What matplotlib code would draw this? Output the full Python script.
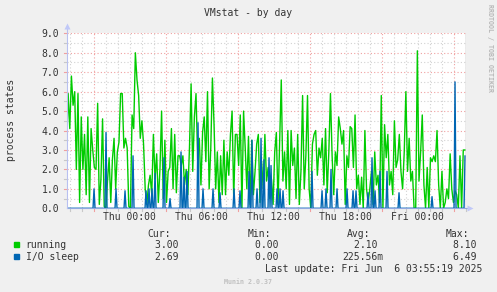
import numpy as np
import matplotlib
matplotlib.use("Agg")
import matplotlib.pyplot as plt
from matplotlib.patches import Rectangle

# ---------------- data ----------------
# "running" samples (process count), read left to right across the day graph
running = [
    3.0, 5.9, 4.1, 6.8, 5.3, 6.0, 2.0, 5.9, 0.3, 4.7, 2.0, 3.8, 0.7, 4.7, 0.3, 4.1, 3.0,
    2.1, 2.0, 5.4, 0.2, 1.5, 4.6, 0.1, 0.0, 1.4, 2.6, 0.3, 2.5, 3.6, 1.0, 2.9, 3.4, 5.9,
    5.9, 3.1, 3.6, 3.1, 0.1, 0.0, 4.8, 4.1, 8.0, 6.6, 5.8, 3.6, 4.5, 3.3, 1.0, 0.2, 1.2,
    1.7, 0.7, 3.8, 1.5, 2.8, 0.3, 2.0, 5.0, 0.5, 3.5, 0.3, 1.9, 2.1, 4.1, 1.0, 3.8, 0.8, 2.7,
    2.7, 2.2, 2.7, 1.2, 2.0, 0.7, 3.1, 6.4, 1.9, 4.7, 5.9, 2.5, 3.6, 1.2, 3.9, 4.7, 2.4,
    6.0, 1.0, 3.1, 6.7, 4.3, 1.0, 2.9, 0.3, 2.7, 0.7, 3.5, 0.7, 2.9, 1.7, 3.8, 5.0, 0.5, 3.8,
    3.8, 2.2, 4.8, 0.0, 5.0, 3.1, 1.0, 3.7, 0.2, 3.5, 0.7, 1.9, 3.3, 3.8, 0.3, 2.4, 1.0,
    3.8, 1.4, 2.1, 0.5, 1.5, 0.2, 2.9, 3.9, 0.2, 3.3, 6.6, 1.4, 2.9, 1.0, 4.0, 0.2, 4.0, 2.2,
    3.1, 0.5, 3.8, 0.2, 1.9, 5.8, 1.0, 2.7, 5.8, 1.0, 0.0, 3.3, 3.8, 4.0, 1.7, 3.1, 2.6,
    3.6, 1.2, 4.1, 0.8, 2.9, 5.9, 2.7, 0.7, 2.9, 2.2, 4.7, 4.1, 3.3, 4.0, 0.2, 2.7, 2.1, 4.2,
    4.1, 2.1, 4.8, 1.0, 1.7, 0.2, 1.6, 0.0, 4.0, 1.0, 0.3, 1.0, 1.9, 0.2, 2.9, 1.2, 1.7,
    0.3, 5.8, 0.0, 4.3, 2.6, 3.8, 1.2, 1.9, 0.7, 4.5, 2.1, 2.5, 3.8, 1.9, 1.0, 2.9, 6.0, 1.9,
    3.6, 1.4, 1.9, 0.0, 0.0, 8.1, 1.4, 2.9, 4.8, 1.2, 0.0, 2.1, 0.0, 2.6, 2.4, 2.7, 2.4,
    4.0, 1.2, 0.0, 1.9, 0.0, 0.3, 1.0, 0.5, 2.8, 1.0, 0.3, 0.9, 0.7, 0.0, 2.7, 0.0, 3.0, 3.0,
]

# "I/O sleep": mostly zero, with spikes (hours relative to Thu 00:00, value)
io_spike_hours = [
    -2.96, -1.96, -1.13, -0.38, 0.29, 1.38, 1.63, 1.88, 2.13, 2.88, 3.38, 4.29, 4.54,
    4.79, 5.71, 6.13, 6.96, 7.54, 8.71, 9.21, 9.96, 10.21, 10.63, 10.96, 11.21, 11.63,
    11.79, 12.29, 12.54, 12.79, 15.21, 16.04, 16.38, 16.79, 17.29, 18.13, 18.63, 18.88,
    19.88, 20.21, 20.46, 20.88, 21.46, 22.46, 25.21, 27.13, 27.96,
]
io_spike_values = [
    1.0, 3.9, 1.0, 0.9, 2.7, 0.9, 1.0, 1.0, 1.8, 2.6, 0.5, 2.9, 1.6,
    1.9, 4.4, 1.0, 1.0, 0.8, 1.0, 0.9, 1.9, 3.5, 1.0, 3.6, 2.5, 2.6,
    2.2, 1.0, 1.0, 0.9, 1.9, 0.9, 1.0, 2.0, 1.0, 1.0, 0.9, 0.9,
    0.8, 2.6, 0.9, 1.9, 1.9, 0.8, 0.6, 6.5, 2.69,
]

x_tick_hours = [0, 6, 12, 18, 24]
x_tick_labels = ["Thu 00:00", "Thu 06:00", "Thu 12:00", "Thu 18:00", "Fri 00:00"]
y_ticks = [0.0, 1.0, 2.0, 3.0, 4.0, 5.0, 6.0, 7.0, 8.0, 9.0]

series_names = ["running", "I/O sleep"]
series_colors = ["#00CC00", "#0066B3"]
cur_vals = ["3.00", "2.69"]
min_vals = ["0.00", "0.00"]
avg_vals = ["2.10", "225.56m"]
max_vals = ["8.10", "6.49"]

title = "VMstat - by day"
ylabel = "process states"
last_update = "Last update: Fri Jun  6 03:55:19 2025"

# ---------------- layout ----------------
W, H = 497, 292
PX_PER_H = 12.0
X0_PIX = 129.5            # pixel of Thu 00:00
AX_L, AX_R, AX_T, AX_B = 66.7, 465.7, 33.3, 208.3
h_left = (AX_L - X0_PIX) / PX_PER_H
h_right = (AX_R - X0_PIX) / PX_PER_H

MONO = "DejaVu Sans Mono"
TXT = "#333333"
FS = 7

fig = plt.figure(figsize=(W / 100, H / 100), dpi=100)
fig.patch.set_facecolor("#F0F0F0")
ax = fig.add_axes([AX_L / W, 1 - AX_B / H, (AX_R - AX_L) / W, (AX_B - AX_T) / H])
ax.set_facecolor("white")
ax.set_xlim(h_left, h_right)
ax.set_ylim(0, 9)
for s in ax.spines.values():
    s.set_visible(False)

# grid
dot = (0, (1, 2))
hh = np.arange(np.ceil(h_left), h_right, 1.0)
for h in hh:
    major = int(round(h + 3)) % 6 == 0
    ax.axvline(h, color="#F0A0A0" if major else "#D2D2D2", lw=0.8, ls=dot, zorder=1)
    ax.plot([h, h], [0, -0.12], color="#F0A0A0" if major else "#C8C8C8", lw=0.8,
            clip_on=False, zorder=1)
for y in np.arange(0.5, 9.01, 0.5):
    major = abs(y - round(y)) < 1e-6
    ax.axhline(y, color="#F0A0A0" if major else "#D2D2D2", lw=0.8, ls=dot, zorder=1)
    ax.plot([h_left - 0.2, h_left], [y, y], color="#F0A0A0" if major else "#C8C8C8",
            lw=0.8, clip_on=False, zorder=1)

# series
t_run = np.linspace(-5.25, 27.95, len(running))
ax.plot(t_run, running, color=series_colors[0], lw=1.0, zorder=3)

step = 5.0 / 60.0
n_io = int(round((27.96 - h_left) / step)) + 1
t_io = np.linspace(27.96 - (n_io - 1) * step, 27.96, n_io)
io = np.zeros(n_io)
for hsp, v in zip(io_spike_hours, io_spike_values):
    io[int(np.argmin(np.abs(t_io - hsp)))] = v
ax.plot(t_io, io, color=series_colors[1], lw=1.0, zorder=4)

# axis lines, arrows and right border
ax.plot([h_left, h_left], [0, 9.3], color="#B8C0F0", lw=0.8, clip_on=False, zorder=5)
ax.plot([h_left, h_right + 0.3], [0, 0], color="#90A8E0", lw=0.8, clip_on=False, zorder=2)
ax.plot([h_left], [9.35], marker="^", ms=4, color="#C0C8F8", clip_on=False, zorder=5, mec="none")
ax.plot([h_right + 0.35], [0], marker=">", ms=4, color="#C0C8F8", clip_on=False, zorder=5, mec="none")
ax.axvline(h_right, color="#A0A0A0", lw=1.0, zorder=5)

# ticks
ax.set_xticks(x_tick_hours)
ax.set_xticklabels(x_tick_labels, family=MONO, fontsize=FS, color=TXT)
ax.set_yticks(y_ticks)
ax.set_yticklabels(["%.1f" % v for v in y_ticks], family=MONO, fontsize=FS, color=TXT)
ax.tick_params(axis="x", length=0, pad=3)
ax.tick_params(axis="y", length=0, pad=5.3)

def ftext(x, y, s, **kw):
    kw.setdefault("family", MONO)
    kw.setdefault("fontsize", FS)
    kw.setdefault("color", TXT)
    fig.text(x / W, 1 - y / H, s, **kw)

ftext(248.5, 16.5, title, ha="center", va="baseline")
ftext(11, 120, ylabel, ha="center", va="center", rotation=90)
ftext(490, 48.5, "RRDTOOL / TOBI OETIKER", ha="center", va="center", rotation=270,
      fontsize=4.8, color="#B8B8B8", weight="bold")

# legend table
for x_r, lab in zip([171, 271, 370.5, 469.5], ["Cur:", "Min:", "Avg:", "Max:"]):
    ftext(x_r, 237.3, lab, ha="right", va="baseline")
row_y = [248, 260]
for i in range(2):
    fig.patches.append(Rectangle((14 / W, 1 - (row_y[i] - 0.7) / H), 5.3 / W, 5.3 / H,
                                 transform=fig.transFigure, color=series_colors[i]))
    ftext(25.5, row_y[i], series_names[i], ha="left", va="baseline")
    for x_r, vals in zip([184.3, 284.3, 383.3, 482], [cur_vals, min_vals, avg_vals, max_vals]):
        s = vals[i]
        if not s.endswith("m"):
            s = s + " "
        ftext(x_r, row_y[i], s, ha="right", va="baseline")
ftext(482.5, 272.5, last_update, ha="right", va="baseline")
ftext(247.5, 283.5, "Munin 2.0.37", ha="center", va="baseline", fontsize=4.8,
      color="#C0C0C0", weight="bold")

fig.savefig("out.png", dpi=100, facecolor=fig.get_facecolor())
